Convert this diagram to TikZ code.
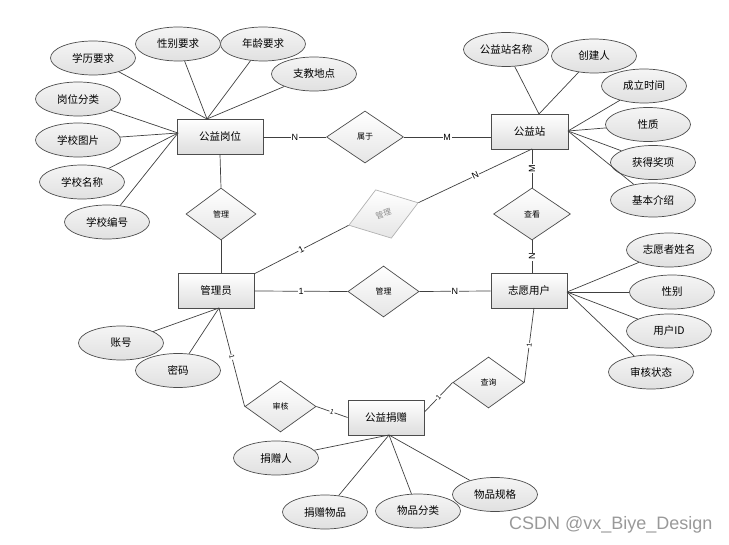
\documentclass[tikz,border=0pt]{standalone}
\usepackage{fontspec}
\newfontfamily\cjk{Noto Sans CJK SC}
\newfontfamily\lat{Liberation Sans}
\usetikzlibrary{shapes.geometric}
\begin{document}
\begin{tikzpicture}[x=1pt,y=-1pt,
 ent/.style={draw=black!70, line width=0.8pt, top color=white, bottom color=black!13, minimum width=76pt, minimum height=35pt, inner sep=0pt, font=\cjk\fontsize{10.5}{12}\selectfont},
 attr/.style={ellipse, draw=black!70, line width=0.7pt, top color=black!4, bottom color=black!12, minimum width=85pt, minimum height=34pt, inner sep=0pt, font=\cjk\fontsize{10.5}{12}\selectfont},
 rel/.style={diamond, draw=black!70, line width=0.7pt, top color=white, bottom color=black!10, minimum width=71pt, minimum height=51pt, inner sep=0pt, font=\cjk\fontsize{8}{9}\selectfont},
 ln/.style={draw=black!75, line width=0.7pt},
 card/.style={fill=white, inner sep=0.6pt, font=\lat\fontsize{9}{10}\selectfont}
]
\useasboundingbox (0,0) rectangle (729,545);
% entities
\node[ent, minimum width=86pt] (gw) at (220,136.5) {公益岗位};
\node[ent, minimum width=77pt] (sy) at (529.5,131.5) {公益站};
\node[ent] (gly) at (216,291) {管理员};
\node[ent] (zy) at (529,291) {志愿用户};
\node[ent] (jz) at (386,417.5) {公益捐赠};
% relations
\node[rel, minimum width=77pt, minimum height=52pt] (sy1) at (365,137) {属于};
\node[rel, minimum width=70pt, minimum height=52pt] (gl1) at (221,214) {管理};
\node[rel, rotate=18, draw=black!30, text=black!45, minimum width=73pt, minimum height=51pt] (gl2) at (383.5,214) {管理};
\node[rel, minimum width=77pt, minimum height=52pt] (ck) at (532,214) {查看};
\node[rel] (gl3) at (383.5,291.5) {管理};
\node[rel] (shk) at (280.5,406.5) {审核};
\node[rel] (cx) at (488.5,382.5) {查询};
% attributes
\node[attr] (xl) at (93,58) {学历要求};
\node[attr] (xb) at (178,44) {性别要求};
\node[attr] (nl) at (263,44) {年龄要求};
\node[attr] (zd) at (314,74) {支教地点};
\node[attr] (gf) at (78,99) {岗位分类};
\node[attr] (tp) at (78,140) {学校图片};
\node[attr] (mc) at (82,182) {学校名称};
\node[attr] (bh) at (107,222) {学校编号};
\node[attr] (sm) at (506,49.5) {公益站名称};
\node[attr] (cj) at (594,56) {创建人};
\node[attr] (cl) at (644,86) {成立时间};
\node[attr] (xz) at (648,124.5) {性质};
\node[attr] (jx) at (653,162.5) {获得奖项};
\node[attr] (js) at (653,200) {基本介绍};
\node[attr] (zn) at (669,250) {志愿者姓名};
\node[attr] (xb2) at (672,292) {性别};
\node[attr] (uid) at (669,331) {用户ID};
\node[attr] (shz) at (651,372) {审核状态};
\node[attr] (zh) at (121,343) {账号};
\node[attr] (mm) at (178,370.5) {密码};
\node[attr] (jr) at (276,458) {捐赠人};
\node[attr] (jw) at (325,512) {捐赠物品};
\node[attr] (fl) at (418,511) {物品分类};
\node[attr] (gg) at (495,494.5) {物品规格};
% attachment points
\coordinate (gwT) at (207,119);
\coordinate (gwL) at (178,133);
\coordinate (syT) at (539,114);
\coordinate (syR) at (568,131);
\coordinate (syB) at (532,149);
\coordinate (zyR) at (567,292);
\coordinate (zyB) at (534,308);
\coordinate (glyB) at (219,308);
\coordinate (glyBR) at (254,274);
\coordinate (jzB) at (389,435);
% attribute lines
\foreach \a in {xl,xb,nl,zd} \draw[ln] (\a) -- (gwT);
\foreach \a in {gf,tp,mc,bh} \draw[ln] (\a) -- (gwL);
\foreach \a in {sm,cj} \draw[ln] (\a) -- (syT);
\foreach \a in {cl,xz,jx,js} \draw[ln] (\a) -- (syR);
\foreach \a in {zn,xb2,uid,shz} \draw[ln] (\a) -- (zyR);
\foreach \a in {zh,mm} \draw[ln] (\a) -- (glyB);
\foreach \a in {jr,jw,fl,gg} \draw[ln] (\a) -- (jzB);
% relationship lines
\draw[ln] (gw.east |- sy1.west) -- node[card] {N} (sy1.west);
\draw[ln] (sy1.east) -- node[card] {M} (sy1.east -| sy.west);
\draw[ln] (gw.south) -- (gl1.north);
\draw[ln] (gl1.south) -- (gl1.south |- gly.north);
\draw[ln] (syB) -- node[card, rotate=90] {M} (ck.north);
\draw[ln] (ck.south) -- node[card, rotate=90] {N} (ck.south |- zy.north);
\draw[ln] (gl2.east) -- node[card, sloped] {N} (syB);
\draw[ln] (glyBR) -- node[card, sloped] {1} (gl2.west);
\draw[ln] (gly.east) -- node[card] {1} (gl3.west);
\draw[ln] (gl3.east) -- node[card] {N} (zy.west);
\draw[ln] (glyB) -- node[card, sloped, font=\lat\fontsize{7}{8}\selectfont] {1} (shk.west);
\draw[ln] (shk.east) -- node[card, sloped, font=\lat\fontsize{7}{8}\selectfont] {1} (jz.west);
\draw[ln] (jz.8) -- node[card, sloped, font=\lat\fontsize{7}{8}\selectfont] {1} (cx.west);
\draw[ln] (cx.east) -- node[card, sloped, font=\lat\fontsize{7}{8}\selectfont] {1} (zyB);
% watermark
\node[anchor=west, text=black!40, font=\lat\fontsize{18}{20}\selectfont, inner sep=0pt] (wm) at (509,525) {CSDN @vx\_Biye\_Design};
\end{tikzpicture}
\end{document}
